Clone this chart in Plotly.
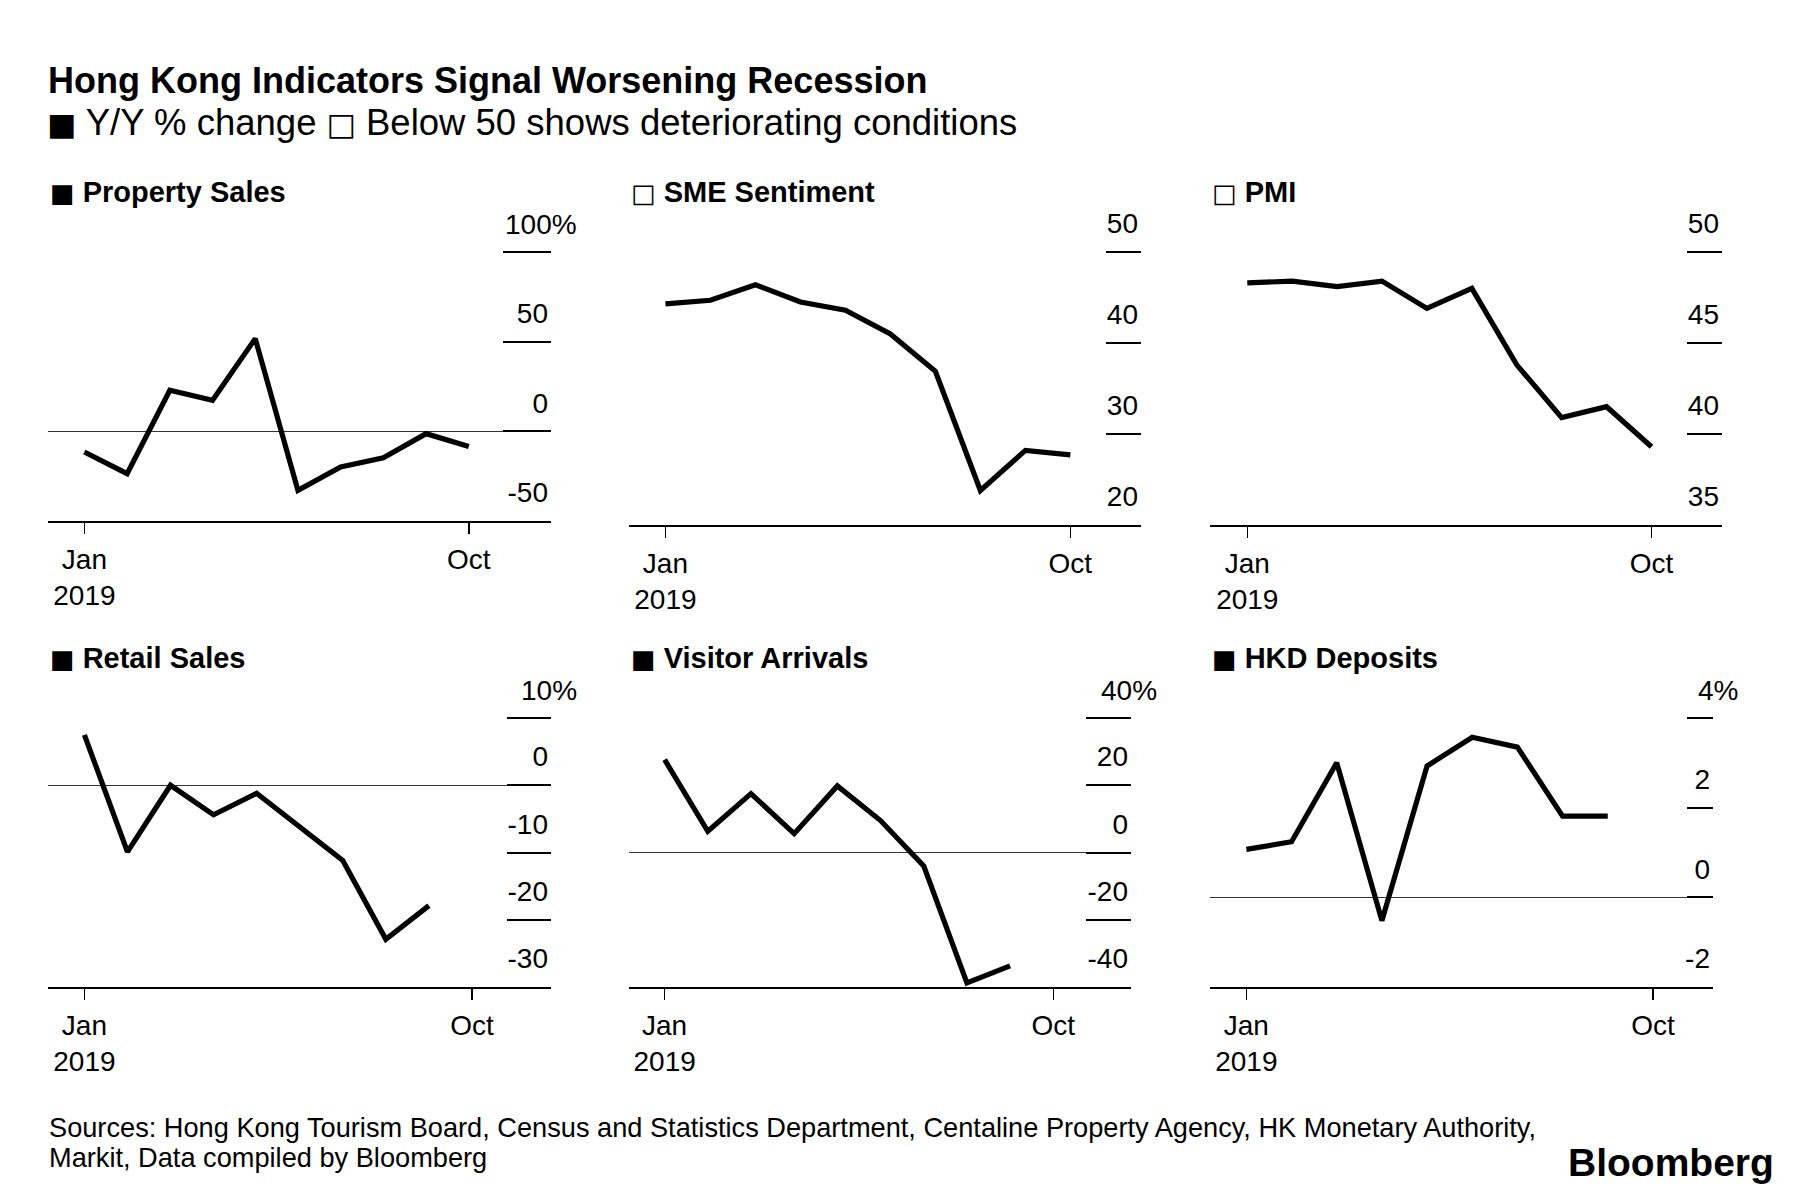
import plotly.graph_objects as go

W, H = 1800, 1194

# ---------------- data ----------------
months = ["Jan", "Feb", "Mar", "Apr", "May", "Jun", "Jul", "Aug", "Sep", "Oct"]

property_sales = [-11.5, -23.6, 22.9, 17.3, 51.7, -32.9, -19.9, -14.7, -1.3, -8.4]
sme_sentiment = [44.3, 44.7, 46.4, 44.5, 43.6, 41.0, 36.9, 23.8, 28.2, 27.7]
pmi = [48.3, 48.4, 48.1, 48.4, 46.9, 48.0, 43.8, 40.9, 41.5, 39.3]
retail_sales = [7.5, -9.9, 0.0, -4.4, -1.2, -6.2, -11.2, -22.9, -17.9]
visitor_arrivals = [27.6, 6.3, 17.5, 5.6, 19.8, 9.5, -4.0, -38.8, -33.7]
hkd_deposits = [1.07, 1.24, 3.0, -0.52, 2.93, 3.57, 3.35, 1.81, 1.81]

panel_names = ["Property Sales", "SME Sentiment", "PMI",
               "Retail Sales", "Visitor Arrivals", "HKD Deposits"]
panel_marks = ["■", "□", "□", "■", "■", "■"]
series = [property_sales, sme_sentiment, pmi, retail_sales, visitor_arrivals, hkd_deposits]

y_tickvals = [[-50, 0, 50, 100], [20, 30, 40, 50], [35, 40, 45, 50],
              [-30, -20, -10, 0, 10], [-40, -20, 0, 20, 40], [-2, 0, 2, 4]]
y_ticktext = [["-50", "0", "50", "100%"], ["20", "30", "40", "50"], ["35", "40", "45", "50"],
              ["-30", "-20", "-10", "0", "10%"], ["-40", "-20", "0", "20", "40%"],
              ["-2", "0", "2", "4%"]]
x_tickvals = ["Jan", "Oct"]
x_ticktext = ["Jan<br>2019", "Oct"]

title = "Hong Kong Indicators Signal Worsening Recession"
subtitle_parts = ["■", " Y/Y % change ", "□", " Below 50 shows deteriorating conditions"]
source_lines = ["Sources: Hong Kong Tourism Board, Census and Statistics Department, "
                "Centaline Property Agency, HK Monetary Authority,",
                "Markit, Data compiled by Bloomberg"]
brand = "Bloomberg"

# ---------------- layout (pixel boxes of each panel) ----------------
# (left, right, top, bottom) in pixels; top = pixel row of the highest tick value
boxes = [(48, 551, 252, 521), (629, 1141, 252, 525), (1210, 1722, 252, 525),
         (48, 551, 718, 987), (629, 1131, 718, 987), (1210, 1713, 718, 987)]
x_ranges = [[-0.852, 10.924], [-0.81, 10.57], [-0.83, 10.57],
            [-0.845, 10.836], [-0.825, 10.8], [-0.805, 10.33]]
tick_lens = [48, 35, 35, 44, 45, 26]
title_y = [192, 192, 192, 658, 658, 658]
TOP_PAD = 3  # px of extra plot height above the top tick so that tick is drawn

FONT = "Liberation Sans"
SQ_FONT = "DejaVu Sans"
TICK_SIZE = 28
DIGIT_W = 0.556 * TICK_SIZE  # Liberation Sans figure width


def px(x):
    return x / W


def py(y):
    return 1 - y / H


def sq(mark, size):
    return f"<span style='font-family:{SQ_FONT};font-size:{size}px'>{mark}</span>"


fig = go.Figure()
annotations = []

for i, vals in enumerate(series):
    n = i + 1
    xa = "x" if n == 1 else f"x{n}"
    ya = "y" if n == 1 else f"y{n}"
    l, r, t, b = boxes[i]
    fig.add_trace(go.Scatter(
        x=months[:len(vals)], y=vals, mode="lines",
        line=dict(color="black", width=5.2, shape="linear"),
        xaxis=xa, yaxis=ya, showlegend=False, hoverinfo="skip",
    ))
    xkey = "xaxis" if n == 1 else f"xaxis{n}"
    ykey = "yaxis" if n == 1 else f"yaxis{n}"
    lo = min(y_tickvals[i])
    hi = max(y_tickvals[i])
    top_extra = (hi - lo) * TOP_PAD / (b - t)

    # labels carrying a "%" hang the unit past the right edge (numbers stay aligned)
    axis_text = []
    for v, txt in zip(y_tickvals[i], y_ticktext[i]):
        if txt.endswith("%"):
            axis_text.append("")
            annotations.append(dict(
                text=txt, xref=f"{xa} domain", yref=ya, x=1, y=v,
                xanchor="left", yanchor="middle", showarrow=False,
                xshift=-DIGIT_W * len(txt[:-1]) - 1, yshift=27,
                font=dict(family=FONT, size=TICK_SIZE, color="black"),
            ))
        else:
            axis_text.append(txt)

    fig.update_layout({
        xkey: dict(
            domain=[px(l), px(r)], anchor=ya, type="category",
            categoryorder="array", categoryarray=months,
            range=x_ranges[i], tickmode="array", tickvals=x_tickvals, ticktext=x_ticktext,
            showgrid=False, zeroline=False, showline=True, linecolor="black", linewidth=2,
            ticks="outside", ticklen=11, tickwidth=1.5, tickcolor="black",
            ticklabelstandoff=1,
            tickfont=dict(family=FONT, size=TICK_SIZE, color="black"),
            automargin=False, fixedrange=True,
        ),
        ykey: dict(
            domain=[py(b), py(t - TOP_PAD)], anchor=xa, side="right",
            range=[lo, hi + top_extra],
            tickmode="array", tickvals=y_tickvals[i], ticktext=axis_text,
            showgrid=False, showline=False,
            zeroline=(lo < 0 < hi), zerolinecolor="#333333", zerolinewidth=1.5,
            ticks="inside", ticklen=tick_lens[i], tickwidth=2, tickcolor="black",
            ticklabelposition="inside top", ticklabeloverflow="allow",
            ticklabelshift=-8,
            tickfont=dict(family=FONT, size=TICK_SIZE, color="black"),
            automargin=False, fixedrange=True,
        ),
    })
    annotations.append(dict(
        text=f"<b>{sq(panel_marks[i], 26)} {panel_names[i]}</b>", xref="paper", yref="paper",
        x=px(l), y=py(title_y[i]), xanchor="left", yanchor="middle", showarrow=False,
        font=dict(family=FONT, size=29, color="black"),
    ))

subtitle_html = (sq(subtitle_parts[0], 31) + subtitle_parts[1]
                 + sq(subtitle_parts[2], 31) + subtitle_parts[3])

annotations += [
    dict(text=f"<b>{title}</b>", xref="paper", yref="paper", x=px(46), y=py(80),
         xanchor="left", yanchor="middle", showarrow=False,
         font=dict(family=FONT, size=36, color="black")),
    dict(text=subtitle_html, xref="paper", yref="paper", x=px(45), y=py(122),
         xanchor="left", yanchor="middle", showarrow=False,
         font=dict(family=FONT, size=36.5, color="black")),
    dict(text=source_lines[0], xref="paper", yref="paper", x=px(47), y=py(1127),
         xanchor="left", yanchor="middle", align="left", showarrow=False,
         font=dict(family=FONT, size=27.2, color="black")),
    dict(text=source_lines[1], xref="paper", yref="paper", x=px(47), y=py(1157),
         xanchor="left", yanchor="middle", align="left", showarrow=False,
         font=dict(family=FONT, size=27.2, color="black")),
    dict(text=f"<b>{brand}</b>", xref="paper", yref="paper", x=px(1776), y=py(1162),
         xanchor="right", yanchor="middle", showarrow=False,
         font=dict(family=FONT, size=39, color="black")),
]

fig.update_layout(
    template="none",
    width=W, height=H, autosize=False,
    margin=dict(l=0, r=0, t=0, b=0, pad=0),
    paper_bgcolor="white", plot_bgcolor="white",
    annotations=annotations,
    showlegend=False,
    font=dict(family=FONT, color="black"),
)

fig.write_html("out.html", config={"displayModeBar": False, "staticPlot": True},
               post_script="document.body.style.margin='0';")
